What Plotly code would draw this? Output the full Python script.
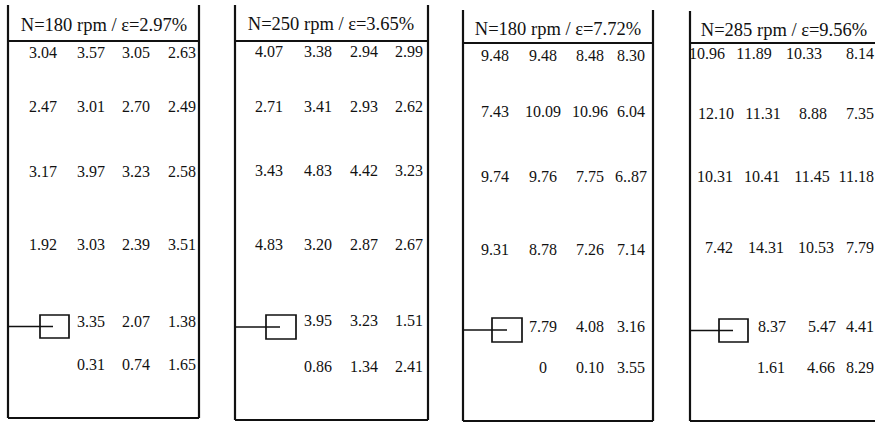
import plotly.graph_objects as go

# ---------------- data ----------------
titles = ["N=180 rpm / ε=2.97%", "N=250 rpm / ε=3.65%",
          "N=180 rpm / ε=7.72%", "N=285 rpm / ε=9.56%"]

p1_vals = [["3.04", "3.57", "3.05", "2.63"],
           ["2.47", "3.01", "2.70", "2.49"],
           ["3.17", "3.97", "3.23", "2.58"],
           ["1.92", "3.03", "2.39", "3.51"],
           [None, "3.35", "2.07", "1.38"],
           [None, "0.31", "0.74", "1.65"]]
p2_vals = [["4.07", "3.38", "2.94", "2.99"],
           ["2.71", "3.41", "2.93", "2.62"],
           ["3.43", "4.83", "4.42", "3.23"],
           ["4.83", "3.20", "2.87", "2.67"],
           [None, "3.95", "3.23", "1.51"],
           [None, "0.86", "1.34", "2.41"]]
p3_vals = [["9.48", "9.48", "8.48", "8.30"],
           ["7.43", "10.09", "10.96", "6.04"],
           ["9.74", "9.76", "7.75", "6..87"],
           ["9.31", "8.78", "7.26", "7.14"],
           [None, "7.79", "4.08", "3.16"],
           [None, "0", "0.10", "3.55"]]
p4_vals = [["10.96", "11.89", "10.33", "8.14"],
           ["12.10", "11.31", "8.88", "7.35"],
           ["10.31", "10.41", "11.45", "11.18"],
           ["7.42", "14.31", "10.53", "7.79"],
           [None, "8.37", "5.47", "4.41"],
           [None, "1.61", "4.66", "8.29"]]
panel_vals = [p1_vals, p2_vals, p3_vals, p4_vals]

# ---------------- layout (pixel geometry) ----------------
W, H = 875, 422
panel_left = [8, 235, 463, 690]
panel_right = [199, 428, 653, 900]
panel_top = [5, 5, 10, 11]
panel_bottom = [418, 420, 421, 421]
header_y = [41, 41, 43, 43]
title_x = [104, 331, 558, 784]
title_y = [26, 25, 30, 31]
col_x = [[43, 91, 136, 182],
         [269, 318, 364, 409],
         [495, 543, 590, 631],
         [707, 754, 804, 874]]
# the last column of the right panel is anchored by its right edge
col_anchor = [["middle center"] * 4, ["middle center"] * 4,
              ["middle center"] * 4,
              ["middle center"] * 3 + ["middle left"]]
row_shift = [[0, 0, 0, 0, 0, 0],
             [0, 0, 0, 0, 0, 0],
             [0, 0, 0, 0, 0, 0],
             [0, 9, 8, 12, 18, 17]]
row_y = [[54, 108, 173, 246, 323, 366],
         [53, 108, 172, 246, 322, 368],
         [57, 113, 178, 251, 328, 369],
         [55, 115, 178, 249, 328, 369]]
# small square + lead line (probe marker)
box_x = [(40, 69), (266, 296), (492, 522), (719, 748)]
box_y = [(315, 338), (315, 339), (318, 342), (319, 342)]
lead_end = [53, 280, 507, 733]

INK = "#111111"
FONT = "Liberation Serif"

fig = go.Figure()
shapes = []
for p in range(4):
    L, R, T, B = panel_left[p], panel_right[p], panel_top[p], panel_bottom[p]
    shapes.append(dict(type="line", x0=L, x1=L, y0=T, y1=B, line=dict(color=INK, width=2.2)))
    shapes.append(dict(type="line", x0=R, x1=R, y0=T, y1=B, line=dict(color=INK, width=2.2)))
    shapes.append(dict(type="line", x0=L, x1=R, y0=B, y1=B, line=dict(color=INK, width=1.8)))
    shapes.append(dict(type="line", x0=L, x1=R, y0=header_y[p], y1=header_y[p],
                       line=dict(color=INK, width=1.9)))
    bx0, bx1 = box_x[p]
    by0, by1 = box_y[p]
    shapes.append(dict(type="rect", x0=bx0, x1=bx1, y0=by0, y1=by1,
                       line=dict(color=INK, width=1.7)))
    ly = (by0 + by1) / 2
    shapes.append(dict(type="line", x0=L, x1=lead_end[p], y0=ly, y1=ly,
                       line=dict(color=INK, width=1.7)))

    fig.add_trace(go.Scatter(x=[title_x[p]], y=[title_y[p]],
                             mode="text", text=[titles[p]],
                             textfont=dict(family=FONT, size=18.5, color=INK),
                             textposition="middle center", hoverinfo="skip",
                             showlegend=False))
    xs, ys, ts, pos = [], [], [], []
    for r, row in enumerate(panel_vals[p]):
        for c, v in enumerate(row):
            if v is None:
                continue
            anchor = col_anchor[p][c]
            shift = row_shift[p][r] if anchor == "middle center" else 0
            xs.append(col_x[p][c] + shift)
            ys.append(row_y[p][r])
            ts.append(v)
            pos.append(anchor)
    fig.add_trace(go.Scatter(x=xs, y=ys, mode="text", text=ts,
                             textfont=dict(family=FONT, size=16, color=INK),
                             textposition=pos, hoverinfo="skip",
                             showlegend=False, cliponaxis=False))

fig.update_layout(
    width=W, height=H,
    margin=dict(l=0, r=0, t=0, b=0),
    paper_bgcolor="white", plot_bgcolor="white",
    shapes=shapes,
    xaxis=dict(range=[0, W], visible=False, fixedrange=True),
    yaxis=dict(range=[H, 0], visible=False, fixedrange=True),
    showlegend=False,
)
fig.write_html("out.html")
